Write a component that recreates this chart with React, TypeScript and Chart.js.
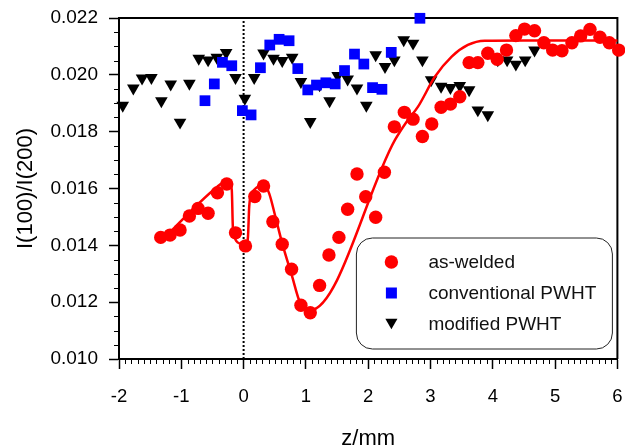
import React, { useEffect, useRef } from 'react';
import { Chart, registerables } from 'chart.js';

Chart.register(...registerables);

// ---------- data ----------
const xTickValues = [-2, -1, 0, 1, 2, 3, 4, 5, 6];
const yTickValues = [0.010, 0.012, 0.014, 0.016, 0.018, 0.020, 0.022];

const seriesLabels = ['as-welded', 'conventional PWHT', 'modified PWHT'];

const asWeldedX = [-1.33, -1.18, -1.02, -0.87, -0.73, -0.57, -0.42, -0.27, -0.13, 0.03, 0.18, 0.32, 0.47, 0.62, 0.77, 0.92, 1.07, 1.22, 1.37, 1.53, 1.67, 1.82, 1.96, 2.12, 2.26, 2.42, 2.58, 2.72, 2.87, 3.02, 3.17, 3.32, 3.47, 3.62, 3.76, 3.92, 4.07, 4.22, 4.37, 4.51, 4.67, 4.82, 4.96, 5.11, 5.27, 5.41, 5.56, 5.72, 5.87, 6.02];
const asWeldedY = [0.01428, 0.01436, 0.01454, 0.01503, 0.01530, 0.01513, 0.01585, 0.01616, 0.01444, 0.01398, 0.01572, 0.01609, 0.01483, 0.01404, 0.01316, 0.01189, 0.01163, 0.01259, 0.01366, 0.01428, 0.01527, 0.01651, 0.01571, 0.01499, 0.01657, 0.01817, 0.01868, 0.01844, 0.01783, 0.01827, 0.01886, 0.01897, 0.01923, 0.02043, 0.02043, 0.02076, 0.02055, 0.02087, 0.02138, 0.02161, 0.02155, 0.02113, 0.02087, 0.02085, 0.02113, 0.02137, 0.02160, 0.02132, 0.02113, 0.02087];

const fitX = [-1.35, -0.45, -0.29, -0.23, -0.19, -0.17, -0.05, 0.02, 0.07, 0.09, 0.11, 0.17, 0.33, 0.41, 0.51, 0.62, 0.78, 0.89, 0.99, 1.07, 2.43, 2.62, 2.80, 3.07, 3.34, 3.60, 3.87, 4.5, 5.0, 5.5, 6.0];
const fitY = [0.01409, 0.01601, 0.01624, 0.01620, 0.01595, 0.01454, 0.01405, 0.01384, 0.01430, 0.01536, 0.01571, 0.01595, 0.01612, 0.01583, 0.01501, 0.01407, 0.01290, 0.01208, 0.01178, 0.01172, 0.01771, 0.01836, 0.01888, 0.01993, 0.02064, 0.02105, 0.02120, 0.02121, 0.02121, 0.02121, 0.02121];

const convX = [-0.62, -0.47, -0.34, -0.19, -0.02, 0.12, 0.27, 0.42, 0.57, 0.73, 0.87, 1.03, 1.17, 1.32, 1.47, 1.62, 1.78, 1.93, 2.07, 2.22, 2.37, 2.83];
const convY = [0.01909, 0.01968, 0.02044, 0.02032, 0.01874, 0.01859, 0.02025, 0.02105, 0.02125, 0.02120, 0.02022, 0.01947, 0.01964, 0.01972, 0.01968, 0.02015, 0.02073, 0.02038, 0.01955, 0.01949, 0.02079, 0.02199];

const modX = [-1.94, -1.77, -1.63, -1.48, -1.32, -1.17, -1.02, -0.87, -0.72, -0.57, -0.43, -0.28, -0.13, 0.02, 0.17, 0.32, 0.48, 0.62, 0.78, 0.92, 1.07, 1.22, 1.38, 1.51, 1.67, 1.82, 1.97, 2.12, 2.27, 2.42, 2.57, 2.72, 2.87, 3.01, 3.17, 3.32, 3.47, 3.62, 3.76, 3.92, 4.08, 4.23, 4.37, 4.52, 4.67];
const modY = [0.01892, 0.01953, 0.01988, 0.01990, 0.01908, 0.01967, 0.01833, 0.01970, 0.02058, 0.02052, 0.02061, 0.02078, 0.01990, 0.01917, 0.01990, 0.02076, 0.02058, 0.02050, 0.02061, 0.01976, 0.01835, 0.01964, 0.01908, 0.01997, 0.01985, 0.01953, 0.01892, 0.02070, 0.02029, 0.02052, 0.02123, 0.02111, 0.02052, 0.01982, 0.01959, 0.01955, 0.01962, 0.01947, 0.01876, 0.01859, 0.02052, 0.02052, 0.02037, 0.02052, 0.02087];

const zeroLineX = [0, 0];
const zeroLineY = [0.010, 0.022];

const RED = '#ff0000';
const BLUE = '#0000ff';
const BLACK = '#000000';
const FONT = '"Liberation Sans", Arial, Helvetica, sans-serif';

const zip = (xs: number[], ys: number[]) => xs.map((x, i) => ({ x, y: ys[i] }));

// ---------- plugins ----------
const framePlugin = {
  id: 'frame',
  beforeDatasetsDraw(chart: any) {
    const { ctx, chartArea: a } = chart;
    ctx.save();
    ctx.strokeStyle = BLACK;
    ctx.lineWidth = 2;
    ctx.beginPath();
    ctx.moveTo(a.left, a.top);
    ctx.lineTo(a.right, a.top);
    ctx.lineTo(a.right, a.bottom);
    ctx.stroke();
    ctx.restore();
  },
  afterDraw(chart: any) {
    const { ctx, chartArea: a, scales } = chart;
    const xs = scales.x;
    const ys = scales.y;
    ctx.save();
    ctx.strokeStyle = BLACK;
    ctx.lineWidth = 1;
    ctx.beginPath();
    for (let i = -20; i <= 60; i++) {
      if (i % 10 === 0) continue;
      const px = Math.round(xs.getPixelForValue(i / 10)) + 0.5;
      ctx.moveTo(px, a.bottom);
      ctx.lineTo(px, a.bottom + 5);
    }
    for (let i = 20; i <= 44; i++) {
      if (i % 4 === 0) continue;
      const py = Math.round(ys.getPixelForValue(i * 0.0005)) + 0.5;
      ctx.moveTo(a.left - 5, py);
      ctx.lineTo(a.left, py);
    }
    ctx.stroke();
    ctx.restore();
  },
};

const legendPlugin = {
  id: 'boxLegend',
  afterDraw(chart: any) {
    const { ctx, chartArea: a } = chart;
    const L = a.right - 261;
    const T = a.top + 220;
    const W = 256;
    const H = 111;
    const R = 16;
    ctx.save();
    ctx.beginPath();
    ctx.moveTo(L + R, T);
    ctx.arcTo(L + W, T, L + W, T + H, R);
    ctx.arcTo(L + W, T + H, L, T + H, R);
    ctx.arcTo(L, T + H, L, T, R);
    ctx.arcTo(L, T, L + W, T, R);
    ctx.closePath();
    ctx.fillStyle = '#ffffff';
    ctx.fill();
    ctx.strokeStyle = '#222222';
    ctx.lineWidth = 1;
    ctx.stroke();

    const mx = L + 35;
    const tx = L + 72;
    const rows = [T + 24, T + 55, T + 86];
    const styles = ['circle', 'rect', 'tri'];
    const colors = [RED, BLUE, BLACK];
    rows.forEach((y, i) => {
      ctx.fillStyle = colors[i];
      ctx.beginPath();
      if (styles[i] === 'circle') {
        ctx.arc(mx, y, 6.7, 0, Math.PI * 2);
      } else if (styles[i] === 'rect') {
        ctx.rect(mx - 5.5, y - 5.5, 11, 11);
      } else {
        const r = 7;
        ctx.moveTo(mx, y + r * 0.75);
        ctx.lineTo(mx - r * Math.sin(Math.PI / 3), y - r * 0.75);
        ctx.lineTo(mx + r * Math.sin(Math.PI / 3), y - r * 0.75);
        ctx.closePath();
      }
      ctx.fill();
      ctx.fillStyle = '#111111';
      ctx.font = `19px ${FONT}`;
      ctx.textAlign = 'left';
      ctx.textBaseline = 'middle';
      ctx.fillText(seriesLabels[i], tx, y + 1);
    });
    ctx.restore();
  },
};

export default function App() {
  const canvasRef = useRef<HTMLCanvasElement | null>(null);

  useEffect(() => {
    document.body.style.margin = '0';
    const canvas = canvasRef.current;
    if (!canvas) return;
    const chart = new Chart(canvas, {
      type: 'scatter',
      data: {
        datasets: [
          {
            label: seriesLabels[0],
            data: zip(asWeldedX, asWeldedY),
            pointStyle: 'circle',
            pointRadius: 6.7,
            pointBackgroundColor: RED,
            pointBorderWidth: 0,
            borderColor: RED,
            backgroundColor: RED,
            clip: false,
          } as any,
          {
            label: 'fit',
            data: zip(fitX, fitY),
            showLine: true,
            pointRadius: 0,
            borderColor: RED,
            borderWidth: 2.5,
            cubicInterpolationMode: 'monotone',
            clip: false,
          },
          {
            label: seriesLabels[1],
            data: zip(convX, convY),
            pointStyle: 'rect',
            pointRadius: 7.6,
            pointBackgroundColor: BLUE,
            pointBorderWidth: 0,
            borderColor: BLUE,
            backgroundColor: BLUE,
            clip: false,
          },
          {
            label: seriesLabels[2],
            data: zip(modX, modY),
            pointStyle: 'triangle',
            rotation: 180,
            pointRadius: 7.3,
            pointBackgroundColor: BLACK,
            pointBorderWidth: 0,
            borderColor: BLACK,
            backgroundColor: BLACK,
            clip: false,
          },
          {
            label: 'z=0',
            data: zip(zeroLineX, zeroLineY),
            showLine: true,
            pointRadius: 0,
            borderColor: BLACK,
            borderWidth: 2,
            borderDash: [2, 2],
          },
        ],
      },
      options: {
        responsive: false,
        animation: false,
        devicePixelRatio: 1,
        layout: { padding: { top: 18, right: 3, left: 0, bottom: 0 } },
        plugins: {
          legend: { display: false },
          tooltip: { enabled: false },
        },
        scales: {
          x: {
            type: 'linear',
            min: -2,
            max: 6,
            afterBuildTicks: (s: any) => {
              s.ticks = xTickValues.map((v) => ({ value: v }));
            },
            afterFit: (s: any) => {
              s.height = 87;
              s.paddingLeft = 0;
              s.paddingRight = 0;
            },
            ticks: {
              color: BLACK,
              font: { family: FONT, size: 18.5 },
              padding: 17,
              maxRotation: 0,
              autoSkip: false,
              callback: (v: any) => String(v),
            },
            grid: {
              drawOnChartArea: false,
              drawTicks: true,
              tickLength: 10,
              tickWidth: 1.5,
              tickColor: BLACK,
            },
            border: { display: true, color: BLACK, width: 2 },
            title: {
              display: true,
              text: 'z/mm',
              color: BLACK,
              font: { family: FONT, size: 22 },
              padding: { top: 0, bottom: -6 },
            },
          },
          y: {
            type: 'linear',
            min: 0.010,
            max: 0.022,
            afterBuildTicks: (s: any) => {
              s.ticks = yTickValues.map((v) => ({ value: v }));
            },
            afterFit: (s: any) => {
              s.width = 119;
              s.paddingTop = 0;
              s.paddingBottom = 0;
            },
            ticks: {
              color: BLACK,
              font: { family: FONT, size: 19 },
              padding: 11,
              autoSkip: false,
              callback: (v: any) => Number(v).toFixed(3),
            },
            grid: {
              drawOnChartArea: false,
              drawTicks: true,
              tickLength: 10,
              tickWidth: 1.5,
              tickColor: BLACK,
            },
            border: { display: true, color: BLACK, width: 2 },
            title: {
              display: true,
              text: 'I(100)/I(200)',
              color: BLACK,
              font: { family: FONT, size: 22 },
              padding: { top: 13, bottom: 0 },
            },
          },
        },
      },
      plugins: [framePlugin, legendPlugin],
    } as any);
    return () => chart.destroy();
  }, []);

  return (
    <div style={{ width: 625, height: 446 }}>
      <canvas ref={canvasRef} width={625} height={446} style={{ display: 'block' }} />
    </div>
  );
}
